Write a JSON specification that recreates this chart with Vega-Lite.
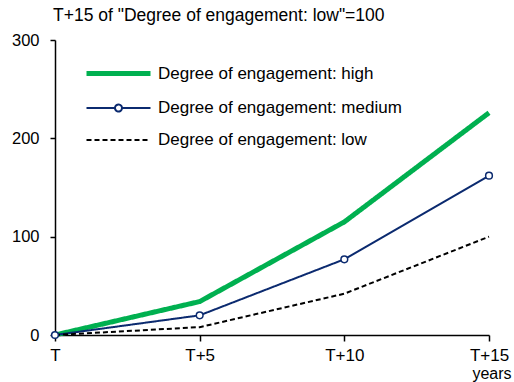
{
  "$schema": "https://vega.github.io/schema/vega-lite/v6.json",
  "width": 434,
  "height": 295,
  "autosize": {"type": "none"},
  "padding": {"left": 55, "top": 40, "right": 25, "bottom": 47},
  "background": "white",
  "title": {
    "text": "T+15 of \"Degree of engagement: low\"=100",
    "anchor": "start",
    "frame": "group",
    "font": "Liberation Sans",
    "fontSize": 17.5,
    "fontWeight": "normal",
    "color": "black",
    "offset": 8,
    "dx": -2
  },
  "config": {"view": {"stroke": null}},
  "data": {
    "values": [
      {"period": "T", "level": "Degree of engagement: high", "value": 0},
      {"period": "T+5", "level": "Degree of engagement: high", "value": 34},
      {"period": "T+10", "level": "Degree of engagement: high", "value": 115},
      {"period": "T+15", "level": "Degree of engagement: high", "value": 226},
      {"period": "T", "level": "Degree of engagement: medium", "value": 0},
      {"period": "T+5", "level": "Degree of engagement: medium", "value": 20},
      {"period": "T+10", "level": "Degree of engagement: medium", "value": 77},
      {"period": "T+15", "level": "Degree of engagement: medium", "value": 162},
      {"period": "T", "level": "Degree of engagement: low", "value": 0},
      {"period": "T+5", "level": "Degree of engagement: low", "value": 8},
      {"period": "T+10", "level": "Degree of engagement: low", "value": 42},
      {"period": "T+15", "level": "Degree of engagement: low", "value": 100}
    ]
  },
  "encoding": {
    "x": {
      "field": "period",
      "type": "ordinal",
      "sort": ["T", "T+5", "T+10", "T+15"],
      "scale": {"type": "point", "padding": 0},
      "axis": {
        "labelAngle": 0,
        "labelFont": "Liberation Sans",
        "labelFontSize": 17,
        "labelColor": "black",
        "labelPadding": 6,
        "tickSize": 6,
        "tickColor": "black",
        "tickWidth": 1.5,
        "domainColor": "black",
        "domainWidth": 1.5,
        "grid": false,
        "title": "years",
        "titleFont": "Liberation Sans",
        "titleFontSize": 16,
        "titleFontWeight": "normal",
        "titleColor": "black",
        "titleAnchor": "end",
        "titleAlign": "right",
        "titleBaseline": "alphabetic",
        "titleX": 456,
        "titleY": 43
      }
    },
    "y": {
      "field": "value",
      "type": "quantitative",
      "scale": {"domain": [0, 300], "nice": false},
      "axis": {
        "values": [0, 100, 200, 300],
        "title": null,
        "grid": false,
        "labelFont": "Liberation Sans",
        "labelFontSize": 16.5,
        "labelColor": "black",
        "labelPadding": 11,
        "tickSize": 5,
        "tickColor": "black",
        "tickWidth": 1.5,
        "domainColor": "black",
        "domainWidth": 1.5
      }
    }
  },
  "layer": [
    {
      "mark": {"type": "line", "strokeCap": "butt"},
      "encoding": {
        "color": {
          "field": "level",
          "type": "nominal",
          "scale": {
            "domain": ["Degree of engagement: high", "Degree of engagement: medium", "Degree of engagement: low"],
            "range": ["#00b050", "#0b2a6f", "#000000"]
          },
          "legend": {
            "orient": "none",
            "legendX": 51,
            "legendY": 21,
            "title": null,
            "padding": 0,
            "symbolSize": 400,
            "labelFont": "Liberation Sans",
            "labelFontSize": 17,
            "labelColor": "black",
            "labelOffset": 27,
            "labelLimit": 400,
            "rowPadding": 13,
            "encode": {
              "symbols": {
                "update": {
                  "shape": {"signal": "datum.value === 'Degree of engagement: medium' ? 'M-3.2,0H-0.35M0.35,0H3.2M0.35,0A0.35,0.35 0 1,1 -0.35,0A0.35,0.35 0 1,1 0.35,0' : 'M-3.2,0H3.2'"},
                  "fill": {"signal": "datum.value === 'Degree of engagement: medium' ? 'white' : 'transparent'"}
                }
              }
            }
          }
        },
        "strokeWidth": {
          "field": "level",
          "type": "nominal",
          "scale": {
            "type": "ordinal",
            "domain": ["Degree of engagement: high", "Degree of engagement: medium", "Degree of engagement: low"],
            "range": [5, 2, 2]
          }
        },
        "strokeDash": {
          "field": "level",
          "type": "nominal",
          "scale": {
            "domain": ["Degree of engagement: high", "Degree of engagement: medium", "Degree of engagement: low"],
            "range": [[1, 0], [1, 0], [5, 3]]
          }
        }
      }
    },
    {
      "transform": [{"filter": "datum.level === 'Degree of engagement: medium'"}],
      "mark": {
        "type": "point",
        "filled": true,
        "fill": "white",
        "stroke": "#0b2a6f",
        "strokeWidth": 1.5,
        "size": 45,
        "opacity": 1
      }
    }
  ]
}
